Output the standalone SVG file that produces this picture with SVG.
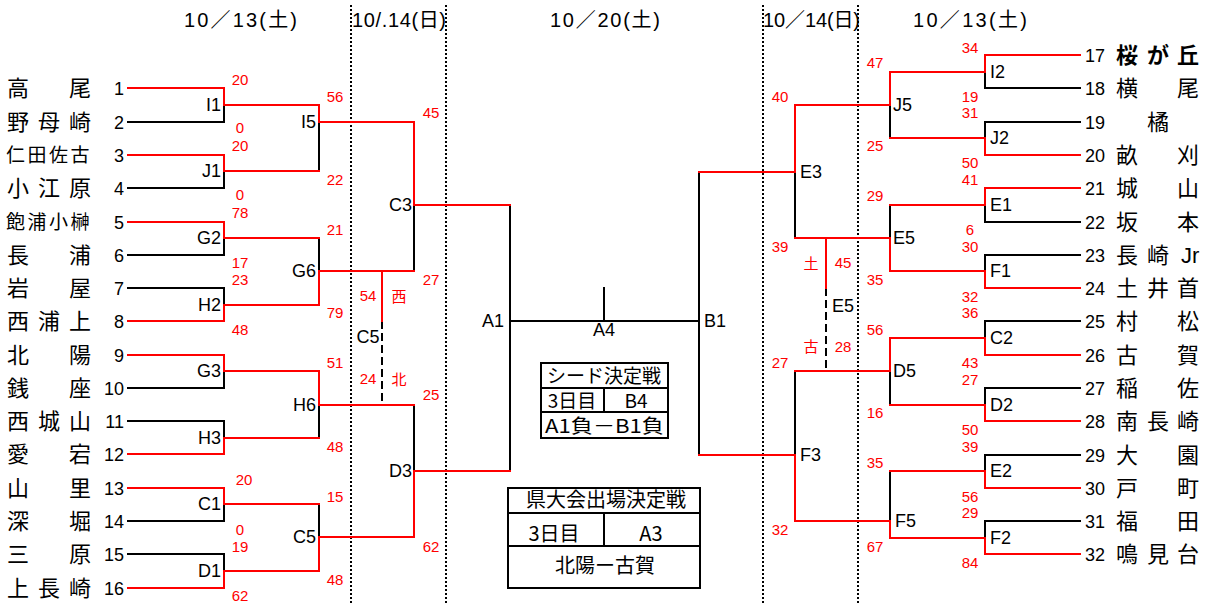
<svg xmlns="http://www.w3.org/2000/svg" width="1208" height="604" viewBox="0 0 1208 604">
<style>
text{font-family:"Liberation Sans","Noto Sans CJK JP",sans-serif;fill:#000}
.nm{font-family:"Noto Sans CJK JP","Liberation Sans",sans-serif;font-size:22px}
.nm4{font-family:"Noto Sans CJK JP","Liberation Sans",sans-serif;font-size:19px}
.no{font-size:18px}
.lb{font-size:18px}
.sc{font-size:15px;fill:#f00;text-anchor:middle}
.sj{font-family:"Noto Sans CJK JP",sans-serif;font-size:15px;fill:#f00;text-anchor:middle}
.dt{font-size:20px}
.bx{font-family:"Noto Sans CJK JP","Liberation Sans",sans-serif;font-size:19px}
.bx2{font-family:"Noto Sans CJK JP","Liberation Sans",sans-serif;font-size:20px}
.r{stroke:#f00;stroke-width:2;fill:none;stroke-linecap:square}
.k{stroke:#000;stroke-width:2;fill:none;stroke-linecap:square}
.kd{stroke:#000;stroke-width:2;fill:none;stroke-dasharray:8 4}
.dot{stroke:#000;stroke-width:2;fill:none;stroke-dasharray:2 2}
.box{stroke:#000;stroke-width:2;fill:#fff}
.end{text-anchor:end}
.mid{text-anchor:middle}
</style>

<g id="dates">
<text class="dt" x="184" y="27" textLength="113" lengthAdjust="spacing">10／13(土)</text>
<text class="dt" x="352" y="27" textLength="94" lengthAdjust="spacing">10/.14(日)</text>
<text class="dt" x="550" y="27" textLength="110" lengthAdjust="spacing">10／20(土)</text>
<text class="dt" x="763" y="27" textLength="97" lengthAdjust="spacing">10／14(日)</text>
<text class="dt" x="913" y="27" textLength="114" lengthAdjust="spacing">10／13(土)</text>
</g>

<g id="day-dividers">
<line class="dot" x1="351" y1="5" x2="351" y2="604"/>
<line class="dot" x1="446" y1="5" x2="446" y2="604"/>
<line class="dot" x1="763" y1="5" x2="763" y2="604"/>
<line class="dot" x1="858" y1="5" x2="858" y2="604"/>
</g>

<g id="connectors">
<path class="k" d="M128,122 H224 V105"/>
<path class="k" d="M128,188 H224 V171"/>
<path class="k" d="M128,255 H224 V238"/>
<path class="k" d="M128,288 H224 V305"/>
<path class="k" d="M128,388 H224 V371"/>
<path class="k" d="M128,421 H224 V438"/>
<path class="k" d="M128,521 H224 V504"/>
<path class="k" d="M128,554 H224 V571"/>
<path class="k" d="M319,122 V171"/>
<path class="k" d="M319,238 V271"/>
<path class="k" d="M319,405 V438"/>
<path class="k" d="M319,504 V537"/>
<path class="k" d="M414,205 V271"/>
<path class="k" d="M414,405 V471"/>
<path class="kd" d="M382,321 V405"/>
<path class="k" d="M510,205 V471"/>
<path class="k" d="M510,321 H699"/>
<path class="k" d="M604,288 V321"/>
<path class="k" d="M699,172 V455"/>
<path class="k" d="M1080,88 H985 V72"/>
<path class="k" d="M1080,122 H985 V138"/>
<path class="k" d="M1080,222 H985 V205"/>
<path class="k" d="M1080,255 H985 V271"/>
<path class="k" d="M1080,321 H985 V338"/>
<path class="k" d="M1080,388 H985 V405"/>
<path class="k" d="M1080,455 H985 V471"/>
<path class="k" d="M1080,521 H985 V538"/>
<path class="k" d="M890,105 V138"/>
<path class="k" d="M890,205 V238"/>
<path class="k" d="M890,371 V405"/>
<path class="k" d="M890,471 V521"/>
<path class="k" d="M795,172 V238"/>
<path class="k" d="M795,371 V455"/>
<path class="kd" d="M826,288 V371"/>
<path class="r" d="M128,88 H224 V105 H319 V122 H414 V205 H510"/>
<path class="r" d="M128,155 H224 V171 H319"/>
<path class="r" d="M128,222 H224 V238 H319"/>
<path class="r" d="M128,321 H224 V305 H319 V271 H414"/>
<path class="r" d="M128,355 H224 V371 H319 V405 H414"/>
<path class="r" d="M128,454 H224 V438 H319"/>
<path class="r" d="M128,488 H224 V504 H319"/>
<path class="r" d="M128,588 H224 V571 H319 V537 H414 V471 H510"/>
<path class="r" d="M382,271 V321" stroke-linecap="butt"/>
<path class="r" d="M1080,55 H985 V72 H890 V105 H795 V172 H699"/>
<path class="r" d="M1080,155 H985 V138 H890"/>
<path class="r" d="M1080,188 H985 V205 H890"/>
<path class="r" d="M1080,288 H985 V271 H890 V238 H795"/>
<path class="r" d="M1080,355 H985 V338 H890 V371 H795"/>
<path class="r" d="M1080,421 H985 V405 H890"/>
<path class="r" d="M1080,488 H985 V471 H890"/>
<path class="r" d="M1080,554 H985 V538 H890 V521 H795 V455 H699"/>
<path class="r" d="M826,238 V288" stroke-linecap="butt"/>
</g>

<g id="team-1"><text class="nm" x="7 69" y="96">高尾</text><text class="no end" x="124" y="95">1</text></g>
<g id="team-2"><text class="nm" x="7 38 69" y="130">野母崎</text><text class="no end" x="124" y="129">2</text></g>
<g id="team-3"><text class="nm4" x="6 27.5 49 70.5" y="162">仁田佐古</text><text class="no end" x="124" y="162">3</text></g>
<g id="team-4"><text class="nm" x="7 38 69" y="196">小江原</text><text class="no end" x="124" y="195">4</text></g>
<g id="team-5"><text class="nm4" x="6 27.5 49 70.5" y="229">飽浦小榊</text><text class="no end" x="124" y="229">5</text></g>
<g id="team-6"><text class="nm" x="7 69" y="263">長浦</text><text class="no end" x="124" y="262">6</text></g>
<g id="team-7"><text class="nm" x="7 69" y="296">岩屋</text><text class="no end" x="124" y="295">7</text></g>
<g id="team-8"><text class="nm" x="7 38 69" y="329">西浦上</text><text class="no end" x="124" y="328">8</text></g>
<g id="team-9"><text class="nm" x="7 69" y="363">北陽</text><text class="no end" x="124" y="362">9</text></g>
<g id="team-10"><text class="nm" x="7 69" y="396">銭座</text><text class="no end" x="124" y="395">10</text></g>
<g id="team-11"><text class="nm" x="7 38 69" y="429">西城山</text><text class="no end" x="124" y="428">11</text></g>
<g id="team-12"><text class="nm" x="7 69" y="462">愛宕</text><text class="no end" x="124" y="461">12</text></g>
<g id="team-13"><text class="nm" x="7 69" y="496">山里</text><text class="no end" x="124" y="495">13</text></g>
<g id="team-14"><text class="nm" x="7 69" y="529">深堀</text><text class="no end" x="124" y="528">14</text></g>
<g id="team-15"><text class="nm" x="7 69" y="562">三原</text><text class="no end" x="124" y="561">15</text></g>
<g id="team-16"><text class="nm" x="7 38 69" y="596">上長崎</text><text class="no end" x="124" y="595">16</text></g>

<g id="team-17"><text class="no" x="1085" y="62">17</text><text class="nm" x="1116 1147 1177" y="63" font-weight="bold">桜が丘</text></g>
<g id="team-18"><text class="no" x="1085" y="95">18</text><text class="nm" x="1116 1177" y="96">横尾</text></g>
<g id="team-19"><text class="no" x="1085" y="129">19</text><text class="nm" x="1147" y="130">橘</text></g>
<g id="team-20"><text class="no" x="1085" y="162">20</text><text class="nm" x="1116 1177" y="163">畝刈</text></g>
<g id="team-21"><text class="no" x="1085" y="195">21</text><text class="nm" x="1116 1177" y="196">城山</text></g>
<g id="team-22"><text class="no" x="1085" y="229">22</text><text class="nm" x="1116 1177" y="230">坂本</text></g>
<g id="team-23"><text class="no" x="1085" y="262">23</text><text class="nm" x="1116 1147" y="263">長崎<tspan x="1181" font-family="Liberation Sans, sans-serif">Jr</tspan></text></g>
<g id="team-24"><text class="no" x="1085" y="295">24</text><text class="nm" x="1116 1147 1177" y="296">土井首</text></g>
<g id="team-25"><text class="no" x="1085" y="328">25</text><text class="nm" x="1116 1177" y="329">村松</text></g>
<g id="team-26"><text class="no" x="1085" y="362">26</text><text class="nm" x="1116 1177" y="363">古賀</text></g>
<g id="team-27"><text class="no" x="1085" y="395">27</text><text class="nm" x="1116 1177" y="396">稲佐</text></g>
<g id="team-28"><text class="no" x="1085" y="428">28</text><text class="nm" x="1116 1147 1177" y="429">南長崎</text></g>
<g id="team-29"><text class="no" x="1085" y="462">29</text><text class="nm" x="1116 1177" y="463">大園</text></g>
<g id="team-30"><text class="no" x="1085" y="495">30</text><text class="nm" x="1116 1177" y="496">戸町</text></g>
<g id="team-31"><text class="no" x="1085" y="528">31</text><text class="nm" x="1116 1177" y="529">福田</text></g>
<g id="team-32"><text class="no" x="1085" y="561">32</text><text class="nm" x="1116 1147 1177" y="562">鳴見台</text></g>

<g id="match-I1"><text class="lb end" x="221" y="111">I1</text><text class="sc" x="240" y="85">20</text><text class="sc" x="240" y="133">0</text></g>
<g id="match-J1"><text class="lb end" x="221" y="177">J1</text><text class="sc" x="240" y="151">20</text><text class="sc" x="240" y="200">0</text></g>
<g id="match-G2"><text class="lb end" x="221" y="244">G2</text><text class="sc" x="240" y="218">78</text><text class="sc" x="240" y="268">17</text></g>
<g id="match-H2"><text class="lb end" x="221" y="311">H2</text><text class="sc" x="240" y="285">23</text><text class="sc" x="240" y="335">48</text></g>
<g id="match-G3"><text class="lb end" x="221" y="377">G3</text></g>
<g id="match-H3"><text class="lb end" x="221" y="444">H3</text></g>
<g id="match-C1"><text class="lb end" x="221" y="510">C1</text><text class="sc" x="244" y="485">20</text><text class="sc" x="240" y="535">0</text></g>
<g id="match-D1"><text class="lb end" x="221" y="577">D1</text><text class="sc" x="240" y="552">19</text><text class="sc" x="240" y="601">62</text></g>
<g id="match-I5"><text class="lb end" x="316" y="128">I5</text><text class="sc" x="335" y="102">56</text><text class="sc" x="335" y="185">22</text></g>
<g id="match-G6"><text class="lb end" x="316" y="277">G6</text><text class="sc" x="335" y="235">21</text><text class="sc" x="335" y="318">79</text></g>
<g id="match-H6"><text class="lb end" x="316" y="411">H6</text><text class="sc" x="335" y="368">51</text><text class="sc" x="335" y="452">48</text></g>
<g id="match-C5"><text class="lb end" x="316" y="543">C5</text><text class="sc" x="335" y="502">15</text><text class="sc" x="335" y="585">48</text></g>
<g id="match-C3"><text class="lb end" x="412" y="211">C3</text><text class="sc" x="431" y="118">45</text><text class="sc" x="431" y="285">27</text></g>
<g id="match-D3"><text class="lb end" x="412" y="477">D3</text><text class="sc" x="431" y="400">25</text><text class="sc" x="431" y="552">62</text></g>
<g id="match-C5-third"><text class="lb mid" x="368" y="343">C5</text><text class="sc" x="368" y="301">54</text><text class="sj" x="399" y="302">西</text><text class="sc" x="368" y="384">24</text><text class="sj" x="399" y="385">北</text></g>

<g id="match-A1"><text class="lb end" x="504" y="327">A1</text></g>
<g id="match-A4"><text class="lb mid" x="604" y="336">A4</text></g>
<g id="match-B1"><text class="lb" x="704" y="327">B1</text></g>

<g id="seed-box">
<rect class="box" x="541" y="363" width="127" height="75"/>
<line class="k" x1="541" y1="388" x2="668" y2="388"/>
<line class="k" x1="541" y1="412" x2="668" y2="412"/>
<line class="k" x1="604" y1="388" x2="604" y2="412"/>
<text class="bx" x="604" y="383" text-anchor="middle">シード決定戦</text>
<text class="bx" x="572" y="408" text-anchor="middle">3日目</text>
<text class="bx" x="636" y="408" text-anchor="middle">B4</text>
<text class="bx" x="545" y="433" textLength="119" lengthAdjust="spacingAndGlyphs">A1負－B1負</text>
</g>

<g id="pref-box">
<rect class="box" x="508" y="488" width="192" height="100"/>
<line class="k" x1="508" y1="513" x2="700" y2="513"/>
<line class="k" x1="508" y1="546" x2="700" y2="546"/>
<line class="k" x1="604" y1="513" x2="604" y2="546"/>
<text class="bx2" x="606" y="507" text-anchor="middle">県大会出場決定戦</text>
<text class="bx2" x="554" y="541" text-anchor="middle">3日目</text>
<text class="bx2" x="651" y="541" text-anchor="middle">A3</text>
<text class="bx2" x="605" y="573" text-anchor="middle">北陽ー古賀</text>
</g>

<g id="match-I2"><text class="lb" x="990" y="78">I2</text><text class="sc" x="970" y="53">34</text><text class="sc" x="970" y="102">19</text></g>
<g id="match-J2"><text class="lb" x="990" y="144">J2</text><text class="sc" x="970" y="118">31</text><text class="sc" x="970" y="168">50</text></g>
<g id="match-E1"><text class="lb" x="990" y="211">E1</text><text class="sc" x="970" y="185">41</text><text class="sc" x="970" y="235">6</text></g>
<g id="match-F1"><text class="lb" x="990" y="277">F1</text><text class="sc" x="970" y="252">30</text><text class="sc" x="970" y="302">32</text></g>
<g id="match-C2"><text class="lb" x="990" y="344">C2</text><text class="sc" x="970" y="318">36</text><text class="sc" x="970" y="368">43</text></g>
<g id="match-D2"><text class="lb" x="990" y="411">D2</text><text class="sc" x="970" y="385">27</text><text class="sc" x="970" y="435">50</text></g>
<g id="match-E2"><text class="lb" x="990" y="477">E2</text><text class="sc" x="970" y="452">39</text><text class="sc" x="970" y="502">56</text></g>
<g id="match-F2"><text class="lb" x="990" y="544">F2</text><text class="sc" x="970" y="518">29</text><text class="sc" x="970" y="568">84</text></g>
<g id="match-J5"><text class="lb" x="893" y="111">J5</text><text class="sc" x="875" y="68">47</text><text class="sc" x="875" y="151">25</text></g>
<g id="match-E5"><text class="lb" x="893" y="244">E5</text><text class="sc" x="875" y="201">29</text><text class="sc" x="875" y="285">35</text></g>
<g id="match-D5"><text class="lb" x="893" y="377">D5</text><text class="sc" x="875" y="335">56</text><text class="sc" x="875" y="418">16</text></g>
<g id="match-F5"><text class="lb" x="895" y="527">F5</text><text class="sc" x="875" y="468">35</text><text class="sc" x="875" y="552">67</text></g>
<g id="match-E3"><text class="lb" x="800" y="178">E3</text><text class="sc" x="780" y="102">40</text><text class="sc" x="780" y="252">39</text></g>
<g id="match-F3"><text class="lb" x="800" y="461">F3</text><text class="sc" x="780" y="368">27</text><text class="sc" x="780" y="535">32</text></g>
<g id="match-E5-third"><text class="lb mid" x="843" y="312">E5</text><text class="sj" x="811" y="269">土</text><text class="sc" x="843" y="268">45</text><text class="sj" x="811" y="352">古</text><text class="sc" x="843" y="352">28</text></g>
</svg>
